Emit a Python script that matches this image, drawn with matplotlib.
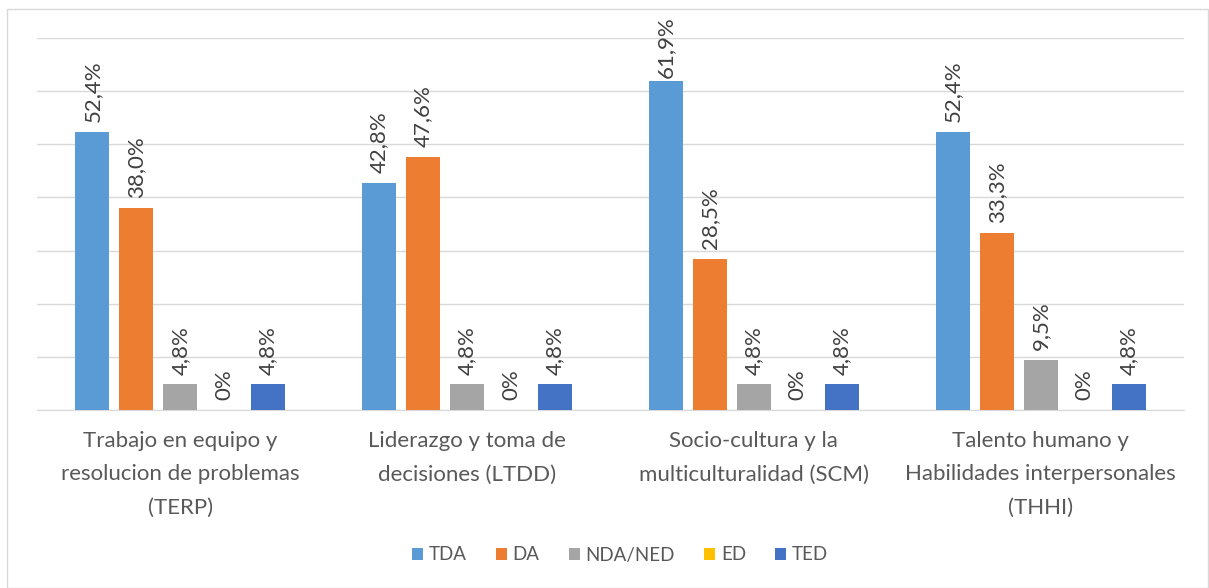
import matplotlib
matplotlib.use("Agg")
import matplotlib.pyplot as plt
from matplotlib.patches import Rectangle
import numpy as np

plt.rcParams['font.family'] = ['Lato', 'DejaVu Sans']

categories = ["Trabajo en equipo y\nresolucion de problemas\n(TERP)",
              "Liderazgo y toma de\ndecisiones (LTDD)",
              "Socio-cultura y la\nmulticulturalidad (SCM)",
              "Talento humano y\nHabilidades interpersonales\n(THHI)"]
series = ["TDA", "DA", "NDA/NED", "ED", "TED"]
tda = [52.4, 42.8, 61.9, 52.4]
da = [38.0, 47.6, 28.5, 33.3]
nda = [4.8, 4.8, 4.8, 9.5]
ed = [0, 0, 0, 0]
ted = [4.8, 4.8, 4.8, 4.8]
labels_tda = ["52,4%", "42,8%", "61,9%", "52,4%"]
labels_da = ["38,0%", "47,6%", "28,5%", "33,3%"]
labels_nda = ["4,8%", "4,8%", "4,8%", "9,5%"]
labels_ed = ["0%", "0%", "0%", "0%"]
labels_ted = ["4,8%", "4,8%", "4,8%", "4,8%"]
colors = ["#5B9BD5", "#ED7D31", "#A5A5A5", "#FFC000", "#4472C4"]

values = [tda, da, nda, ed, ted]
labels = [labels_tda, labels_da, labels_nda, labels_ed, labels_ted]

W, H = 1209, 588
fig = plt.figure(figsize=(W / 100, H / 100), dpi=100)
ax = fig.add_axes([37 / W, (H - 410) / H, (1184 - 37) / W, (410 - 38) / H])

x = np.arange(len(categories))
pitch = 44 / 287
width = 34 / 287
texts = []
for i, (vals, labs, col, name) in enumerate(zip(values, labels, colors, series)):
    pos = x + (i - 2) * pitch
    bars = ax.bar(pos, vals, width, color=col, label=name, zorder=3)
    for b, lab in zip(bars, labs):
        t = ax.annotate(lab, (b.get_x() + b.get_width() / 2, b.get_height()),
                        xytext=(0, 7), textcoords="offset points",
                        rotation=90, ha="center", va="bottom",
                        fontsize=16, color="#404040", annotation_clip=False)
        texts.append(t)

ax.set_xlim(-0.5, 3.5)
ax.set_ylim(0, 70)
ax.set_yticks(np.arange(0, 71, 10))
ax.set_yticklabels([])
ax.tick_params(axis="y", length=0)
ax.grid(axis="y", color="#D9D9D9", linewidth=1, zorder=0)
for s in ["top", "right", "left"]:
    ax.spines[s].set_visible(False)
ax.spines["bottom"].set_color("#D9D9D9")
ax.set_xticks(x)
ax.set_xticklabels(categories, fontsize=16, color="#595959", linespacing=1.85)
ax.tick_params(axis="x", length=0, pad=15)

leg = fig.legend(loc="center", bbox_to_anchor=(620 / W, (H - 555) / H), ncol=5,
                 frameon=False, fontsize=13.5, handlelength=0.6, handleheight=0.6,
                 handletextpad=0.3, columnspacing=1.55, labelcolor="#595959")

fig.patches.append(Rectangle((7 / W, 0), 1 - 8 / W, (H - 9) / H, transform=fig.transFigure,
                             fill=False, edgecolor="#D9D9D9", linewidth=1))

# keep data labels inside the chart area (the original pulls the tallest label closer to its bar)
fig.canvas.draw()
renderer = fig.canvas.get_renderer()
top_limit = H - 16
for t in texts:
    bb = t.get_window_extent(renderer)
    if bb.y1 > top_limit:
        over_pt = (bb.y1 - top_limit) * 72 / fig.dpi
        ox, oy = t.xyann
        t.xyann = (ox, max(oy - over_pt, 0.5))

fig.savefig("out.png", dpi=100, facecolor="white")
